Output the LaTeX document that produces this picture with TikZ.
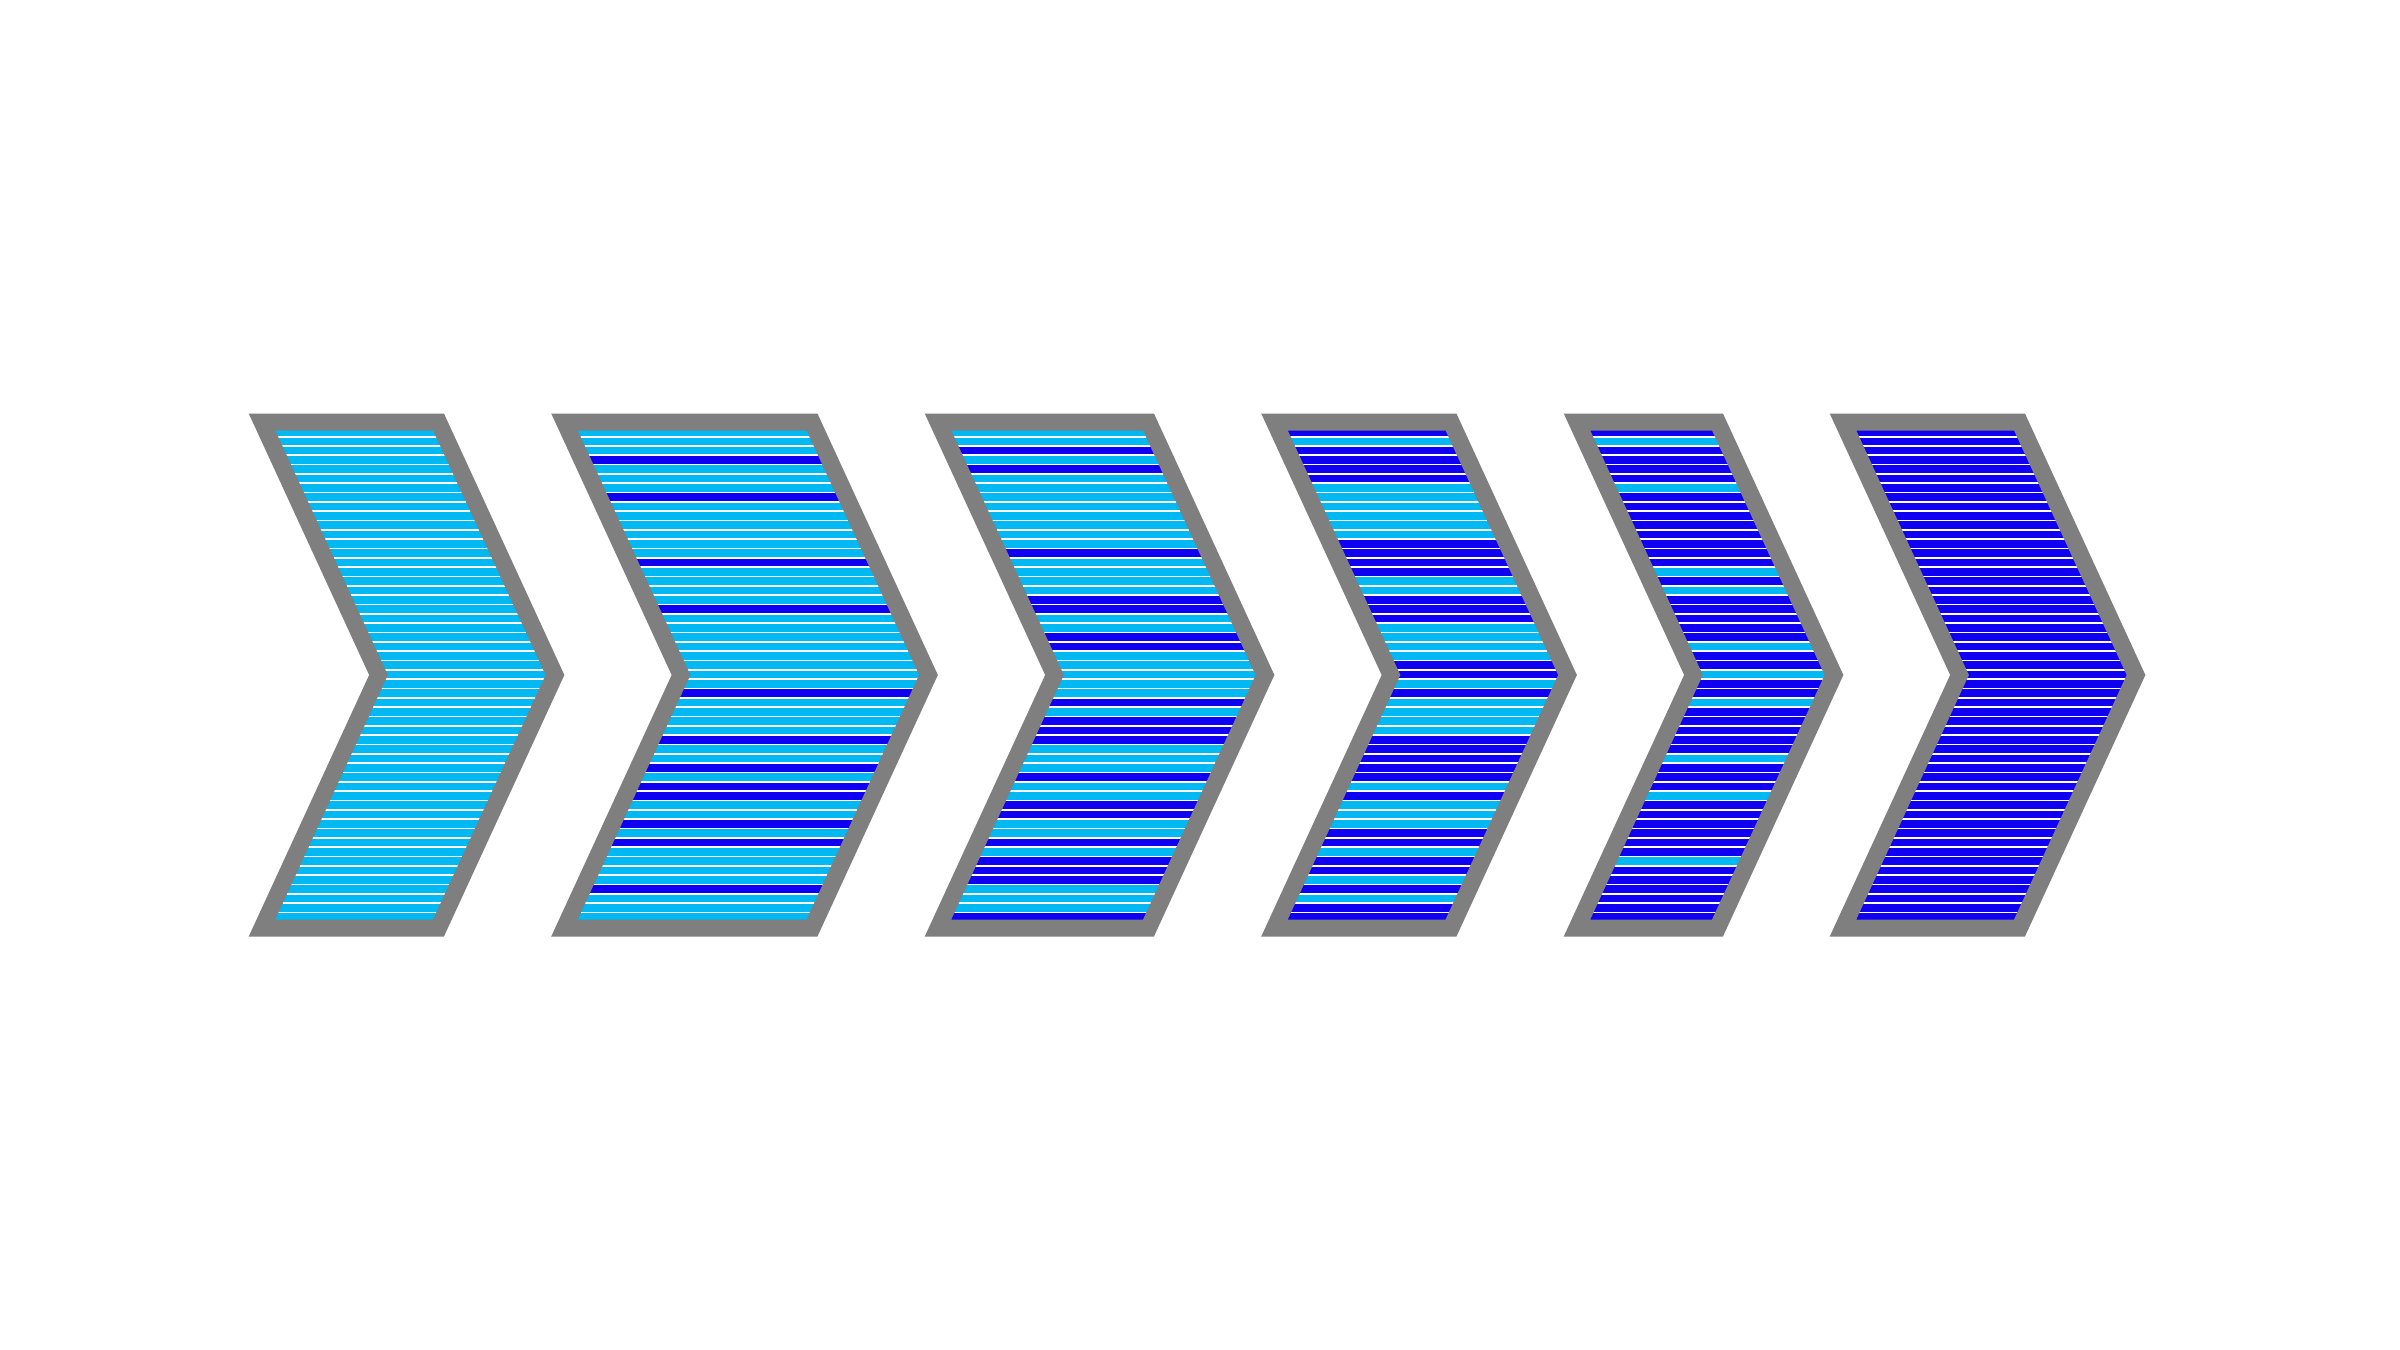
\documentclass[tikz,border=0pt]{standalone}
\definecolor{cyanband}{RGB}{0,184,242}
\definecolor{blueband}{RGB}{16,0,242}
\definecolor{rimgray}{RGB}{127,127,127}
\tikzset{
  rim/.style={draw=rimgray,line width=5.1pt,line join=miter},
  whiteline/.style={fill=white}
}
% one coloured row of stripes (index -1 .. 51)
\newcommand\band[2]{\fill[#1] (0,{435.7+9.33*#2}) rectangle (2400,{435.7+9.33*(#2+1)});}
\newcommand\bands[2]{\foreach \k in {#2}{\band{#1}{\k}}}
% chevron: left x, top width, stripe content
\newcommand\chev[3]{%
  \begin{scope}
    \clip (#1,422) -- ++(#2,0) -- ++(116.5,253) -- ++(-116.5,253) -- ++(-#2,0) -- ++(116.5,-253) -- cycle;
    #3
    \foreach \k in {0,...,51}{\fill[whiteline] (0,{435.7+9.33*\k}) rectangle (2400,{437.5+9.33*\k});}
  \end{scope}
  \draw[rim] (#1,422) -- ++(#2,0) -- ++(116.5,253) -- ++(-116.5,253) -- ++(-#2,0) -- ++(116.5,-253) -- cycle;
}
\begin{document}
\begin{tikzpicture}[x=0.3pt,y=-0.3pt]
  \fill[white] (0,0) rectangle (2400,1350);
  \useasboundingbox (0,0) rectangle (2400,1350);
  % 1
  \chev{262}{176.5}{\fill[cyanband] (0,400) rectangle (2400,950);}
  % 2
  \chev{564.5}{247.5}{\fill[cyanband] (0,400) rectangle (2400,950);
    \bands{blueband}{2,6,13,18,27,32,35,37,38,41,43,48}}
  % 3
  \chev{938}{210.5}{\fill[cyanband] (0,400) rectangle (2400,950);
    \bands{blueband}{1,3,12,17,18,21,22,28,30,31,32,36,39,40,43,45,46,47,51}}
  % 4
  \chev{1274.5}{176.5}{\fill[cyanband] (0,400) rectangle (2400,950);
    \bands{blueband}{-1,1,2,3,4,11,12,13,14,17,18,19,24,25,27,32,33,34,35,36,38,42,43,45,46,48,50,51}}
  % 5
  \chev{1577}{140.5}{\fill[blueband] (0,400) rectangle (2400,950);
    \bands{cyanband}{0,5,14,16,22,25,28,34,38,45}}
  % 6
  \chev{1843}{176.5}{\fill[blueband] (0,400) rectangle (2400,950);}
\end{tikzpicture}
\end{document}
